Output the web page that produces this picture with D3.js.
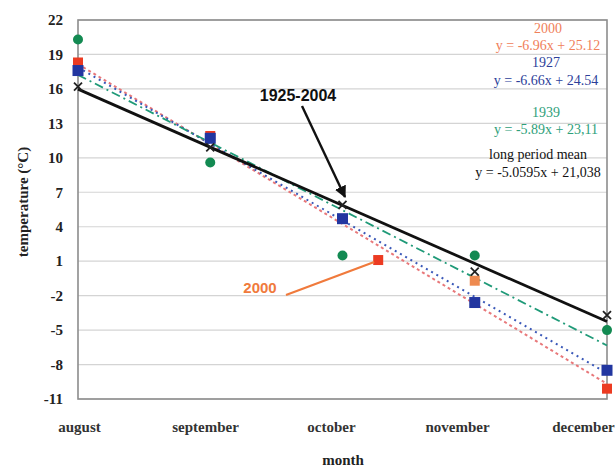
<!DOCTYPE html>
<html>
<head>
<meta charset="utf-8">
<script src="https://cdn.jsdelivr.net/npm/d3@7/dist/d3.min.js"></script>
<style>
  html, body { margin: 0; padding: 0; background: #fff; }
  svg { display: block; }
</style>
</head>
<body>
<svg id="chart" width="615" height="468"></svg>
<script>
// Monthly mean air temperature, August–December
const months = ["august", "september", "october", "november", "december"];
const yTicks = [22, 19, 16, 13, 10, 7, 4, 1, -2, -5, -8, -11];

// Observed monthly values (°C)
const temp2000 = [18.3, 11.9, 1.1, -0.7, -10.1];
const temp1927 = [17.6, 11.7, 4.7, -2.6, -8.5];
const temp1939 = [20.3, 9.6, 1.5, 1.5, -5.0];
const tempMean = [16.2, 10.9, 5.9, 0.1, -3.7];

// Linear trend coefficients y = a·x + b (x = 1 for august ... 5 for december)
const trend2000 = [-6.96, 25.12];
const trend1927 = [-6.66, 24.54];
const trend1939 = [-5.89, 23.11];
const trendMean = [-5.0595, 21.038];

// Trend equation labels
const eqTitles = ["2000", "1927", "1939", "long period mean"];
const eqTexts = ["y = -6.96x + 25.12", "y = -6.66x + 24.54", "y = -5.89x + 23,11", "y = -5.0595x + 21,038"];

const svg = d3.select("#chart");
const plot = { left: 78, right: 607, top: 20, bottom: 399 };

const x = d3.scalePoint().domain(months).range([plot.left, plot.right]);
const xLabel = d3.scalePoint().domain(months).range([79, 583]);
const y = d3.scaleLinear().domain([-11, 22]).range([plot.bottom, plot.top]);
const xIdx = d3.scaleLinear().domain([1, 5]).range([plot.left, plot.right]);

const serif = "'Liberation Serif', 'Times New Roman', serif";
const sans = "'Liberation Sans', Arial, sans-serif";

// gridlines
svg.append("g")
  .selectAll("line")
  .data(yTicks)
  .join("line")
  .attr("x1", plot.left).attr("x2", plot.right)
  .attr("y1", d => y(d)).attr("y2", d => y(d))
  .attr("stroke", "#d4d4d4").attr("stroke-width", 1.2);

// plot frame
svg.append("rect")
  .attr("x", plot.left).attr("y", plot.top)
  .attr("width", plot.right - plot.left).attr("height", plot.bottom - plot.top)
  .attr("fill", "none").attr("stroke", "#8c8c8c").attr("stroke-width", 1.6);

// y axis labels (plain hyphen for negatives)
const yAxis = d3.axisLeft(y).tickValues(yTicks).tickFormat(d => String(d)).tickSize(0).tickPadding(15);
const gy = svg.append("g").attr("transform", `translate(${plot.left},0)`).call(yAxis);
gy.select(".domain").remove();
gy.selectAll("text")
  .attr("font-family", serif).attr("font-weight", "bold")
  .attr("font-size", 15).attr("fill", "#222");

// x axis labels
const xAxis = d3.axisBottom(xLabel).tickSize(0).tickPadding(22);
const gx = svg.append("g").attr("transform", `translate(0,${plot.bottom})`).call(xAxis);
gx.select(".domain").remove();
gx.selectAll("text")
  .attr("font-family", serif).attr("font-weight", "bold")
  .attr("font-size", 15).attr("fill", "#333");

// axis titles
svg.append("text")
  .attr("x", 343).attr("y", 465)
  .attr("text-anchor", "middle")
  .attr("font-family", serif).attr("font-weight", "bold").attr("font-size", 15)
  .attr("fill", "#222").text("month");

svg.append("text")
  .attr("transform", "translate(28,202) rotate(-90)")
  .attr("text-anchor", "middle")
  .attr("font-family", serif).attr("font-weight", "bold").attr("font-size", 15)
  .attr("fill", "#222").text("temperature (°C)");

// trend lines
const trendLine = (coef) => [1, 5].map(i => [xIdx(i), y(coef[0] * i + coef[1])]);
const line = d3.line();

svg.append("path").attr("d", line(trendLine(trend2000)))
  .attr("fill", "none").attr("stroke", "#e8787a").attr("stroke-width", 2)
  .attr("stroke-dasharray", "3,3");
svg.append("path").attr("d", line(trendLine(trend1927)))
  .attr("fill", "none").attr("stroke", "#3a58b8").attr("stroke-width", 2)
  .attr("stroke-dasharray", "2,4");
svg.append("path").attr("d", line(trendLine(trend1939)))
  .attr("fill", "none").attr("stroke", "#1f9a78").attr("stroke-width", 1.8)
  .attr("stroke-dasharray", "9,4,2,4");

// markers
const callout = 0.27; // the highlighted october 2000 value is set beside its label
svg.append("g").selectAll("rect")
  .data(temp2000)
  .join("rect")
  .attr("x", (d, i) => xIdx(i + 1 + (i === 2 ? callout : 0)) - 5)
  .attr("y", d => y(d) - 5)
  .attr("width", 10).attr("height", 10)
  .attr("fill", (d, i) => i === 3 ? "#ee8a50" : "#ec3b22");

svg.append("g").selectAll("rect")
  .data(temp1927)
  .join("rect")
  .attr("x", (d, i) => x(months[i]) - 5.5)
  .attr("y", d => y(d) - 5.5)
  .attr("width", 11).attr("height", 11)
  .attr("fill", "#2236a0");

svg.append("g").selectAll("circle")
  .data(temp1939)
  .join("circle")
  .attr("cx", (d, i) => x(months[i]))
  .attr("cy", d => y(d))
  .attr("r", 5)
  .attr("fill", "#138a52");

// long period mean trend (solid) with x markers
svg.append("path").attr("d", line(trendLine(trendMean)))
  .attr("fill", "none").attr("stroke", "#111").attr("stroke-width", 2.8);

svg.append("g").selectAll("path")
  .data(tempMean)
  .join("path")
  .attr("d", (d, i) => {
    const cx = x(months[i]), cy = y(d), s = 4;
    return `M${cx - s},${cy - s}L${cx + s},${cy + s}M${cx - s},${cy + s}L${cx + s},${cy - s}`;
  })
  .attr("stroke", "#222").attr("stroke-width", 1.8);

// equation labels
const eqColors = ["#f0805a", "#2d3f9a", "#2ea07a", "#111"];
const eqCenters = [548, 546, 546, 538];
const eqY = [[33, 50], [67, 85], [117, 134], [159, 177]];
eqTitles.forEach((t, i) => {
  const g = svg.append("g")
    .attr("font-family", serif).attr("font-size", 14)
    .attr("fill", eqColors[i]).attr("text-anchor", "middle");
  g.append("text").attr("x", eqCenters[i]).attr("y", eqY[i][0]).text(t);
  g.append("text").attr("x", eqCenters[i]).attr("y", eqY[i][1]).text(eqTexts[i]);
});

// annotations
svg.append("text")
  .attr("x", 298).attr("y", 101)
  .attr("text-anchor", "middle")
  .attr("font-family", sans).attr("font-weight", "bold").attr("font-size", 16)
  .attr("fill", "#111").text("1925-2004");

svg.append("defs").append("marker")
  .attr("id", "arrowBlack")
  .attr("viewBox", "0 0 10 10").attr("refX", 9).attr("refY", 5)
  .attr("markerWidth", 5).attr("markerHeight", 5)
  .attr("orient", "auto")
  .append("path").attr("d", "M0,0L10,5L0,10Z").attr("fill", "#111");

svg.append("line")
  .attr("x1", 302).attr("y1", 106).attr("x2", 345).attr("y2", 197)
  .attr("stroke", "#111").attr("stroke-width", 2.4)
  .attr("marker-end", "url(#arrowBlack)");

svg.append("text")
  .attr("x", 260).attr("y", 293)
  .attr("text-anchor", "middle")
  .attr("font-family", sans).attr("font-weight", "bold").attr("font-size", 15)
  .attr("fill", "#f07a3c").text("2000");

svg.append("line")
  .attr("x1", 286).attr("y1", 295).attr("x2", xIdx(3 + callout) - 4).attr("y2", y(temp2000[2]) + 2)
  .attr("stroke", "#f07a3c").attr("stroke-width", 2.2);
</script>
</body>
</html>
